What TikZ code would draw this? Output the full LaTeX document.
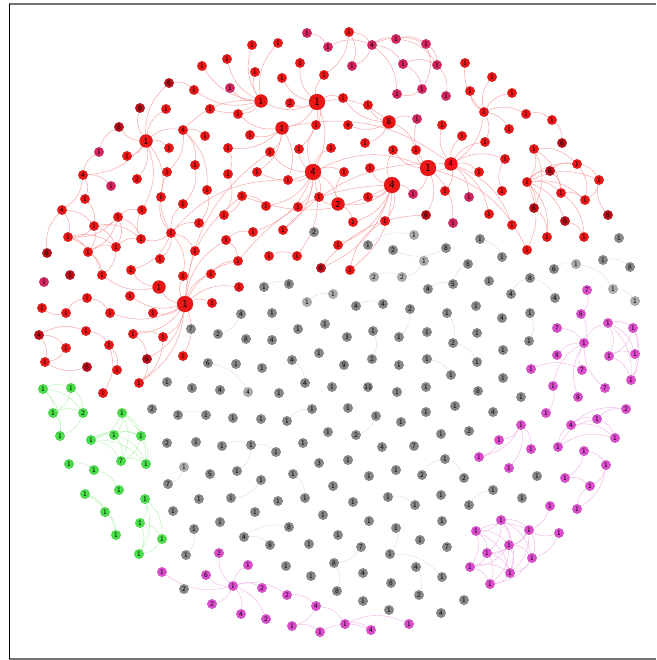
\documentclass[tikz,border=0pt]{standalone}
\usepackage{tikz}
\usetikzlibrary{backgrounds}
\definecolor{rc}{RGB}{236,22,22}
\definecolor{dc}{RGB}{188,14,24}
\definecolor{pc}{RGB}{214,36,96}
\definecolor{gc}{RGB}{136,136,136}
\definecolor{lc}{RGB}{172,172,172}
\definecolor{mc}{RGB}{222,76,206}
\definecolor{ec}{RGB}{72,224,72}
\tikzset{
  % vertex: filled disc, its count written inside
  vtx/.style={circle, fill=#1, draw=#1!78!black, line width=0.2pt, inner sep=0pt,
              minimum size=9.5pt, font=\sffamily\fontsize{7}{7}\selectfont, text=black},
  % hub vertex
  hubvtx/.style={minimum size=13pt, font=\sffamily\fontsize{9}{9}\selectfont},
  % largest hubs
  bighub/.style={minimum size=16pt, font=\sffamily\fontsize{11}{11}\selectfont},
  % curved edges, one per community
  redge/.style={draw=rc!42, line width=0.45pt, bend left=24},
  gedge/.style={draw=gc!28, line width=0.45pt, bend left=24},
  medge/.style={draw=mc!42, line width=0.45pt, bend left=24},
  eedge/.style={draw=ec!42, line width=0.45pt, bend left=24},
}
\begin{document}
\begin{tikzpicture}[x=1pt,y=-1pt]
  \useasboundingbox (0,0) rectangle (656,660);
  % frame
  \draw[black!55, line width=1.4pt] (9,4) -- (656,4);
  \draw[black!55, line width=1.4pt] (9,659) -- (656,659);
  \draw[black, line width=0.9pt] (9,4) -- (9,659);

  % -- red community --
  \foreach \n/\x/\y/\l/\c in {
    r1/307/33/1/pc, r2/328/47/1/pc, r3/349/32/1/rc, r4/372/45/4/pc, r5/396/39/1/pc, r6/426/44/1/pc,
    r7/352/66/1/pc, r8/403/64/1/pc, r9/437/65/1/pc, r10/397/94/1/pc, r11/422/89/1/pc, r12/446/96/1/pc,
    r13/252/45/1/rc, r14/278/43/1/rc, r15/202/66/1/rc, r16/227/59/1/rc, r17/255/72/1/rc, r18/300/63/1/rc,
    r19/324/75/1/rc, r20/169/83/6/dc, r21/194/90/1/rc, r22/230/88/1/pc, r23/282/78/1/rc, r25/290/103/2/rc,
    r27/140/108/6/dc, r28/166/109/1/rc, r29/210/109/1/rc, r30/238/114/1/rc, r31/119/127/6/dc, r33/183/130/4/rc,
    r34/205/136/1/rc, r36/250/135/1/rc, r37/316/125/1/rc, r38/99/152/1/pc, r39/127/156/1/rc, r40/169/148/1/rc,
    r41/228/148/1/rc, r42/270/152/1/rc, r43/299/149/1/rc, r44/83/175/4/rc, r45/111/186/1/pc, r46/137/179/2/rc,
    r47/167/172/1/rc, r48/195/165/1/rc, r49/228/174/1/rc, r50/257/172/1/rc, r52/85/199/1/rc, r53/161/197/1/rc,
    r54/183/204/1/rc, r55/207/190/1/rc, r56/242/196/1/rc, r57/288/180/1/rc, r58/319/197/1/rc, r59/62/210/4/rc,
    r60/118/217/1/rc, r61/94/226/1/rc, r62/142/210/1/rc, r63/171/233/1/rc, r64/199/223/1/rc, r65/224/215/1/rc,
    r66/266/206/1/rc, r67/298/207/1/rc, r68/68/237/1/rc, r69/88/252/1/rc, r70/116/247/1/rc, r71/141/239/1/rc,
    r72/47/253/6/dc, r73/195/251/1/rc, r74/226/240/1/rc, r75/253/232/1/rc, r76/283/230/1/rc, r77/102/275/1/rc,
    r78/70/275/1/dc, r79/131/270/1/rc, r80/160/259/1/rc, r81/183/276/1/rc, r82/211/274/1/rc, r83/238/261/1/rc,
    r84/269/256/1/rc, r85/297/256/1/rc, r86/321/268/6/dc, r87/44/282/1/pc, r89/239/287/1/rc, r90/87/298/1/rc,
    r91/130/296/1/rc, r93/212/303/1/rc, r94/42/308/1/rc, r95/66/313/1/rc, r96/110/313/1/rc, r97/153/313/1/rc,
    r98/39/335/4/dc, r99/86/331/1/rc, r100/66/348/1/rc, r101/109/345/1/rc, r102/133/334/1/rc, r103/163/337/1/rc,
    r104/45/362/1/rc, r105/87/367/6/dc, r106/117/370/1/rc, r107/147/359/6/dc, r108/183/356/1/rc, r109/103/393/1/rc,
    r110/139/383/1/rc, r111/465/63/1/rc, r112/492/77/1/rc, r113/470/91/1/rc, r114/512/93/1/rc, r115/343/98/1/rc,
    r116/368/105/1/rc, r117/484/112/1/rc, r118/526/114/1/rc, r119/552/120/1/rc, r120/348/125/4/rc, r122/417/119/1/pc,
    r123/442/125/1/rc, r124/509/129/1/rc, r125/562/143/6/dc, r126/331/148/1/rc, r127/365/143/1/rc, r128/393/150/1/rc,
    r129/416/150/1/rc, r130/462/136/1/rc, r131/485/142/1/rc, r132/534/149/1/rc, r133/344/172/1/rc, r134/370/168/1/rc,
    r137/479/172/1/rc, r138/505/159/1/rc, r139/550/171/6/dc, r140/577/164/1/rc, r141/599/180/1/rc, r143/527/182/1/rc,
    r145/368/197/1/rc, r146/413/194/1/pc, r147/445/191/1/rc, r148/469/197/1/pc, r149/502/191/1/rc, r150/561/193/1/rc,
    r151/585/200/1/rc, r152/534/208/6/dc, r153/353/222/1/rc, r154/385/221/1/rc, r155/426/215/6/dc, r156/453/223/1/pc,
    r157/489/214/1/rc, r158/512/225/1/rc, r159/565/221/6/dc, r160/608/215/6/dc, r161/547/237/1/rc, r162/584/237/1/rc,
    r163/527/250/1/rc, r164/338/245/1/rc, r165/350/270/1/rc}
    \node[vtx=\c] (\n) at (\x,\y) {\l};
  \foreach \n/\x/\y/\l in {r24/261/101/1, r32/146/141/1, r35/282/128/1, r121/389/122/8,
    r136/451/164/4, r144/338/204/2, r88/159/287/1}
    \node[vtx=rc, hubvtx] (\n) at (\x,\y) {\l};
  \foreach \n/\x/\y/\l in {r26/317/102/1, r51/313/172/4, r92/185/304/1, r135/428/168/1, r142/392/185/4}
    \node[vtx=rc, bighub] (\n) at (\x,\y) {\l};

  % -- grey community --
  \foreach \n/\x/\y/\l/\c in {
    g1/314/232/2/gc, g2/368/245/1/gc, g3/393/250/2/gc, g4/414/235/1/lc, g5/446/248/8/gc, g6/480/239/1/gc,
    g7/502/257/1/gc, g8/424/261/1/lc, g9/468/264/8/gc, g10/374/277/2/lc, g11/402/277/2/lc, g12/428/289/4/gc,
    g13/453/284/5/gc, g14/489/281/1/gc, g15/530/278/8/gc, g16/554/269/6/gc, g17/576/264/1/lc, g18/603/260/1/gc,
    g19/630/267/8/gc, g20/619/238/1/gc, g21/613/289/1/lc, g22/635/301/1/lc, g23/511/294/4/gc, g24/555/298/4/gc,
    g25/264/287/1/gc, g26/289/284/8/gc, g27/307/302/1/lc, g28/333/294/1/lc, g29/356/306/4/gc, g30/383/304/4/gc,
    g31/410/309/2/gc, g32/447/313/1/gc, g33/476/306/1/gc, g34/530/313/1/gc, g35/502/318/4/gc, g36/241/314/4/gc,
    g37/272/313/1/gc, g38/191/329/7/gc, g39/218/334/2/gc, g40/246/339/8/gc, g41/272/340/4/gc, g42/298/329/1/gc,
    g43/325/324/1/gc, g44/319/353/1/gc, g45/208/363/6/gc, g46/236/364/1/gc, g47/262/368/1/gc, g48/292/360/4/gc,
    g49/167/382/1/gc, g50/192/388/1/gc, g51/220/390/4/gc, g52/248/392/4/lc, g53/279/393/1/gc, g54/305/383/4/gc,
    g55/152/409/2/gc, g56/178/415/2/gc, g57/206/415/1/gc, g58/233/418/1/gc, g59/261/419/1/gc, g60/287/421/1/gc,
    g61/312/409/1/gc, g62/328/432/1/gc, g63/167/443/2/gc, g64/196/442/1/gc, g65/222/446/1/gc, g66/251/445/1/gc,
    g67/276/452/1/gc, g68/303/443/1/gc, g69/184/467/1/lc, g70/210/474/5/gc, g71/237/471/1/gc, g72/261/480/1/gc,
    g73/293/474/1/gc, g74/319/463/3/gc, g75/168/484/7/gc, g76/199/499/1/gc, g77/231/498/1/gc, g78/278/501/1/gc,
    g79/305/498/1/gc, g80/173/511/1/gc, g81/255/512/1/gc, g82/323/515/1/gc, g83/194/529/1/gc, g84/220/522/1/gc,
    g85/244/537/4/gc, g86/289/527/8/gc, g87/270/545/8/gc, g88/309/544/1/gc, g89/186/555/1/gc, g90/286/566/1/gc,
    g91/311/576/1/gc, g92/184/589/2/gc, g93/347/337/3/gc, g94/373/331/1/gc, g95/399/337/1/gc, g96/427/332/1/gc,
    g97/453/343/2/gc, g98/477/333/1/gc, g99/503/350/1/gc, g100/529/341/1/gc, g101/344/365/9/gc, g102/372/359/2/gc,
    g103/399/365/1/gc, g104/427/359/1/gc, g105/451/375/1/gc, g106/477/362/1/gc, g107/503/378/1/gc, g108/332/387/1/gc,
    g109/368/387/11/gc, g110/397/392/1/gc, g111/426/387/1/gc, g112/478/391/8/gc, g113/521/397/1/gc, g114/348/408/1/gc,
    g115/376/416/1/gc, g116/401/422/1/gc, g117/426/412/1/gc, g118/455/406/1/gc, g119/493/412/4/gc, g120/356/435/2/gc,
    g121/382/447/4/gc, g122/414/446/7/gc, g123/441/434/1/gc, g124/469/431/2/gc, g125/348/460/1/gc, g126/369/476/1/gc,
    g127/396/470/1/gc, g128/422/475/2/gc, g129/445/459/1/gc, g130/464/478/2/gc, g131/537/476/1/gc, g132/333/486/1/gc,
    g133/353/502/1/gc, g134/388/497/1/gc, g135/415/505/1/gc, g136/441/495/1/gc, g137/469/505/1/gc, g138/493/490/1/gc,
    g139/522/498/1/gc, g140/369/521/1/gc, g141/396/528/1/gc, g142/442/521/1/gc, g143/338/535/1/gc, g144/361/547/7/gc,
    g145/390/554/1/gc, g146/420/540/1/gc, g147/447/547/7/gc, g148/334/563/8/gc, g149/363/573/4/gc, g150/391/583/8/gc,
    g151/416/567/4/gc, g152/442/577/1/gc, g153/337/591/8/gc, g154/363/601/1/gc, g155/419/595/2/gc, g156/464/600/1/gc,
    g157/389/610/1/gc, g158/441/613/4/gc}
    \node[vtx=\c] (\n) at (\x,\y) {\l};

  % -- magenta community --
  \foreach \n/\x/\y/\l in {
    m1/587/290/7, m2/581/314/8, m3/557/328/7, m4/584/343/1, m5/608/323/1, m6/633/328/1, m7/609/356/1,
    m8/635/354/1, m9/631/380/1, m10/557/355/8, m11/531/369/1, m12/582/370/7, m13/553/386/1, m14/605/388/7,
    m15/578/397/8, m16/546/413/1, m17/521/425/1, m18/499/440/1, m19/531/449/1, m20/479/457/1, m21/509/468/1,
    m22/571/425/4, m23/597/419/1, m24/626/409/2, m25/615/438/1, m26/558/447/1, m27/584/451/1, m28/606/465/1,
    m29/565/478/1, m30/590/486/1, m31/577/509/1, m32/550/506/1, m33/501/520/1, m34/476/531/1, m35/529/530/1,
    m36/559/533/1, m37/509/545/1, m38/487/553/1, m39/532/558/1, m40/470/567/1, m41/510/573/1, m42/490/584/1,
    m43/219/553/2, m44/248/565/1, m45/162/572/1, m46/206/575/6, m47/233/586/1, m48/262/588/2, m49/287/595/2,
    m50/212/604/2, m51/241/614/4, m52/266/619/2, m53/316/606/4, m54/292/626/1, m55/320/632/1, m56/345/624/1,
    m57/371/630/4, m58/409/624/1}
    \node[vtx=mc] (\n) at (\x,\y) {\l};

  % -- green community --
  \foreach \n/\x/\y/\l in {
    e1/43/389/1, e2/71/388/1, e3/53/413/1, e4/83/413/2, e5/60/436/1, e6/122/413/1, e7/91/440/1,
    e8/114/435/1, e9/141/436/1, e10/121/461/7, e11/146/464/1, e12/69/464/1, e13/94/470/1, e14/119/490/1,
    e15/85/494/1, e16/105/512/1, e17/116/535/1, e18/145/499/1, e19/140/523/1, e20/162/539/1, e21/139/554/1}
    \node[vtx=ec] (\n) at (\x,\y) {\l};

  \begin{scope}[on background layer]
    % red edges
    \foreach \a/\b in {
      r1/r2, r2/r4, r4/r5, r4/r6, r4/r7, r4/r8, r5/r9, r6/r9, r8/r9, r3/r4, r3/r7, r6/r11, r9/r12, r11/r10,
      r8/r11, r5/r6, r4/r10, r3/r19,
      r24/r13, r24/r14, r24/r16, r24/r15, r24/r17, r24/r22, r24/r29, r24/r30, r24/r21,
      r26/r18, r26/r19, r26/r23, r26/r25, r26/r37, r26/r35, r26/r43, r26/r115, r26/r24,
      r35/r36, r35/r42, r35/r41, r35/r30, r35/r50,
      r51/r37, r51/r43, r51/r57, r51/r58, r51/r66, r51/r67, r51/r75, r51/r76, r51/r85, r51/r50, r51/r42,
      r51/r126, r51/r133,
      r32/r27, r32/r28, r32/r31, r32/r39, r32/r40, r32/r33, r32/r46, r32/r53, r32/r62, r32/r44, r32/r20,
      r33/r34, r33/r47, r33/r48, r33/r55, r20/r21,
      r44/r45, r44/r52, r44/r59, r44/r38, r38/r31,
      r60/r61, r60/r68, r60/r69, r60/r70, r60/r71, r60/r62, r61/r68, r61/r69, r61/r70, r61/r71, r68/r69,
      r68/r70, r68/r77, r69/r70, r69/r77, r70/r71, r70/r77, r71/r62, r59/r61, r59/r68, r52/r61, r72/r59,
      r63/r47, r63/r53, r63/r54, r63/r64, r63/r80, r63/r81, r63/r79, r63/r71, r63/r73,
      r55/r64, r56/r65, r49/r65, r48/r54, r41/r49, r56/r66, r74/r75, r74/r83, r82/r83, r84/r85,
      r92/r91, r92/r93, r92/r97, r92/r88, r92/r81, r92/r103, r92/r107, r92/r108, r92/r110, r92/r102,
      r92/r96, r92/r83, r92/r89, r92/r82, r92/r74, r92/r56,
      r95/r94, r95/r90, r98/r99, r98/r100, r98/r104, r99/r101, r100/r104, r101/r106, r101/r109, r105/r104,
      r102/r107, r102/r103, r107/r110, r103/r110, r88/r79, r88/r77, r90/r96,
      r117/r111, r117/r112, r117/r113, r117/r114, r117/r118, r117/r124, r117/r131, r117/r136, r118/r119,
      r119/r125,
      r136/r130, r136/r131, r136/r137, r136/r138, r136/r147, r136/r148, r136/r123, r136/r135, r136/r157,
      r136/r158,
      r135/r128, r135/r129, r135/r146, r135/r155, r135/r156, r135/r122,
      r121/r116, r121/r120, r121/r127, r121/r115, r121/r122, r121/r129,
      r142/r128, r142/r134, r142/r145, r142/r153, r142/r154, r142/r144, r142/r164, r142/r165, r142/r146,
      r144/r133, r144/r58, r144/r153,
      r132/r143, r132/r140, r132/r150, r132/r152, r143/r139, r143/r140, r143/r141, r143/r150, r143/r151,
      r143/r152, r143/r159, r143/r161, r139/r140, r139/r150, r140/r141, r140/r151, r150/r151, r150/r162,
      r152/r161, r159/r162, r141/r151, r149/r138, r143/r163, r160/r141,
      r51/r135, r26/r121, r35/r136, r142/r56, r51/r144, r35/r57, r76/r136, r86/r155, r165/r154, r83/r142,
      r63/r57, r142/r86, r33/r24, r26/r51, r92/r42, r135/r163}
      \draw[redge] (\a) to (\b);
    % grey edges
    \foreach \a/\b in {
      g2/g4, g10/g11, g8/g11, g13/g9, g12/g13, g15/g24, g16/g17, g17/g21, g18/g19, g21/g22, g27/g28,
      g29/g30, g31/g95, g32/g97, g97/g106, g34/g100, g94/g102, g104/g105, g115/g120, g128/g129,
      g129/g130, g134/g135, g137/g138, g141/g145, g144/g148, g148/g153, g151/g155, g145/g152, g45/g52,
      g48/g54, g56/g57, g65/g66, g66/g67, g66/g71, g72/g77, g69/g75, g73/g79, g85/g86, g85/g87,
      g83/g89, g60/g61, g36/g39, g25/g26, g5/g3, g6/g7, g23/g15}
      \draw[gedge] (\a) to (\b);
    % magenta edges
    \foreach \a/\b in {
      m47/m43, m47/m44, m47/m45, m47/m46, m47/m48, m47/m49, m47/m50, m47/m51, m47/m52, m49/m53,
      m53/m54, m54/m55, m53/m56, m56/m57, m56/m58, m55/m57,
      m1/m2, m2/m4, m3/m4, m10/m4, m12/m4, m13/m4, m14/m4, m15/m4, m11/m12, m13/m16, m4/m5, m5/m6,
      m5/m7, m5/m8, m5/m9, m6/m7, m6/m8, m6/m9, m7/m8, m7/m9, m8/m9,
      m17/m18, m17/m19, m17/m20, m17/m21, m18/m20,
      m22/m23, m23/m24, m23/m25, m22/m25, m26/m23, m26/m25, m26/m22, m22/m24,
      m27/m28, m28/m30, m27/m29, m29/m30, m31/m30, m28/m31,
      m33/m34, m33/m35, m33/m37, m33/m38, m33/m39, m33/m41, m34/m37, m34/m38, m34/m40, m34/m41,
      m34/m35, m35/m37, m35/m39, m35/m38, m35/m41, m37/m38, m37/m39, m37/m40, m37/m41, m37/m42,
      m38/m40, m38/m41, m38/m42, m39/m41, m39/m42, m40/m42, m40/m41, m41/m42, m36/m35, m32/m35, m36/m39}
      \draw[medge] (\a) to (\b);
    % green edges
    \foreach \a/\b in {
      e1/e2, e1/e3, e1/e4, e1/e5, e2/e3, e2/e4, e3/e4, e3/e5, e4/e5,
      e6/e7, e6/e8, e6/e9, e6/e10, e6/e11, e7/e8, e7/e9, e7/e10, e7/e11, e8/e9, e8/e10, e8/e11,
      e9/e10, e9/e11, e10/e11,
      e12/e13, e13/e14, e15/e16, e16/e17, e15/e17,
      e18/e19, e18/e20, e18/e21, e19/e20, e19/e21, e20/e21}
      \draw[eedge] (\a) to (\b);
  \end{scope}
\end{tikzpicture}
\end{document}
